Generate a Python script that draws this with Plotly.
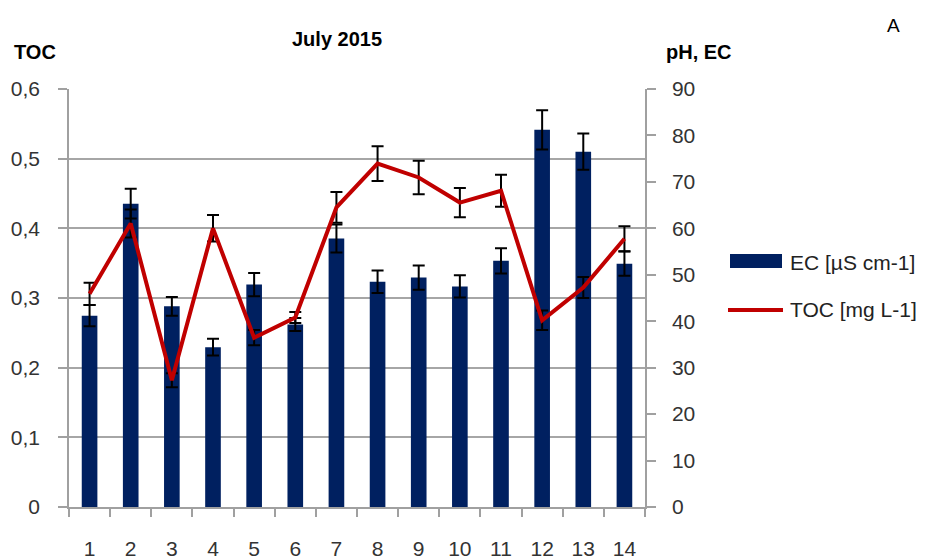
import plotly.graph_objects as go

sites = [str(i) for i in range(1, 15)]
ec_values = [41.2, 65.3, 43.2, 34.4, 47.9, 39.3, 57.8, 48.5, 49.4, 47.5, 53.0, 81.2, 76.5, 52.4]
ec_errors = [2.3, 3.2, 2.0, 1.8, 2.5, 1.4, 3.0, 2.4, 2.6, 2.4, 2.7, 4.2, 3.9, 2.6]
toc_values = [0.306, 0.407, 0.182, 0.400, 0.243, 0.272, 0.430, 0.493, 0.473, 0.437, 0.454, 0.268, 0.315, 0.385]
toc_errors = [0.016, 0.020, 0.010, 0.019, 0.011, 0.008, 0.022, 0.025, 0.024, 0.021, 0.023, 0.014, 0.015, 0.018]

toc_ticks = [0, 0.1, 0.2, 0.3, 0.4, 0.5, 0.6]
toc_labels = ["0", "0,1", "0,2", "0,3", "0,4", "0,5", "0,6"]
ec_ticks = [0, 10, 20, 30, 40, 50, 60, 70, 80, 90]

NAVY = "#002060"
RED = "#C00000"
AXIS = "#a0a0a0"
TICKFONT = dict(family="Liberation Sans, Arial, sans-serif", size=21, color="#333333")

# page body has an 8px margin: figure is placed at (8, 8) in the window
OFF = 8
W, H = 928 - OFF, 560 - OFF
L, R, T, B = 69, 645, 89, 507   # plot area in window pixels

fig = go.Figure()
fig.add_trace(go.Bar(
    x=sites, y=ec_values, yaxis="y", name="EC [µS cm-1]",
    marker=dict(color=NAVY, line=dict(width=0)),
    error_y=dict(type="data", array=ec_errors, color="black", thickness=2, width=6),
    showlegend=False,
))
fig.add_trace(go.Scatter(
    x=sites, y=toc_values, yaxis="y2", mode="lines", name="TOC [mg L-1]",
    line=dict(color=RED, width=4),
    error_y=dict(type="data", array=toc_errors, color="black", thickness=2, width=6),
    showlegend=False,
))

fig.update_layout(
    width=W, height=H,
    margin=dict(l=L - OFF, r=W - (R - OFF), t=T - OFF, b=H - (B - OFF), pad=0),
    paper_bgcolor="white", plot_bgcolor="white",
    bargap=0.62,
    xaxis=dict(
        type="category", range=[-0.5, len(sites) - 0.5],
        showline=True, linecolor=AXIS, linewidth=1.5,
        ticks="outside", tickson="boundaries", ticklen=8, tickcolor=AXIS, tickwidth=1.5,
        tickfont=TICKFONT, ticklabelstandoff=22, showgrid=False, automargin=False,
    ),
    yaxis=dict(
        side="right", range=[0, 90], tickvals=ec_ticks,
        showline=True, linecolor=AXIS, linewidth=1.5,
        ticks="outside", ticklen=9, tickcolor=AXIS, tickwidth=1.5,
        tickfont=TICKFONT, showgrid=False, zeroline=False, ticklabelstandoff=12,
        automargin=False,
    ),
    yaxis2=dict(
        side="left", overlaying="y", range=[0, 0.6], tickvals=toc_ticks, ticktext=toc_labels,
        showline=True, linecolor=AXIS, linewidth=1.5,
        ticks="outside", ticklen=9, tickcolor=AXIS, tickwidth=1.5,
        tickfont=TICKFONT, showgrid=True, gridcolor="#a6a6a6", gridwidth=1.5,
        zeroline=False, ticklabelstandoff=14, automargin=False,
    ),
)

def px_x(px):
    return (px - L) / (R - L)
def px_y(py):
    return (B - py) / (B - T)

# Titles
title_font = dict(family="Liberation Sans, Arial, sans-serif", size=20, color="black")
fig.add_annotation(text="<b>July 2015</b>", xref="paper", yref="paper", x=px_x(337), y=px_y(39),
                   showarrow=False, font=title_font, xanchor="center", yanchor="middle")
fig.add_annotation(text="<b>TOC</b>", xref="paper", yref="paper", x=px_x(35), y=px_y(52),
                   showarrow=False, font=title_font, xanchor="center", yanchor="middle")
fig.add_annotation(text="<b>pH, EC</b>", xref="paper", yref="paper", x=px_x(699), y=px_y(52),
                   showarrow=False, font=title_font, xanchor="center", yanchor="middle")
fig.add_annotation(text="A", xref="paper", yref="paper", x=px_x(893), y=px_y(26),
                   showarrow=False, font=dict(family="Liberation Sans, Arial, sans-serif", size=19, color="black"),
                   xanchor="center", yanchor="middle")

# Legend (drawn manually)
fig.add_shape(type="rect", xref="paper", yref="paper", x0=px_x(730), x1=px_x(782), y0=px_y(268), y1=px_y(254),
              fillcolor=NAVY, line=dict(width=0))
fig.add_shape(type="line", xref="paper", yref="paper", x0=px_x(728), x1=px_x(783), y0=px_y(310), y1=px_y(310),
              line=dict(color=RED, width=4))
legend_font = dict(family="Liberation Sans, Arial, sans-serif", size=21, color="#222222")
fig.add_annotation(text="EC [µS cm-1]", xref="paper", yref="paper", x=px_x(788), y=px_y(262),
                   showarrow=False, xanchor="left", yanchor="middle", font=legend_font)
fig.add_annotation(text="TOC [mg L-1]", xref="paper", yref="paper", x=px_x(788), y=px_y(309),
                   showarrow=False, xanchor="left", yanchor="middle", font=legend_font)

fig.write_html("out.html")
